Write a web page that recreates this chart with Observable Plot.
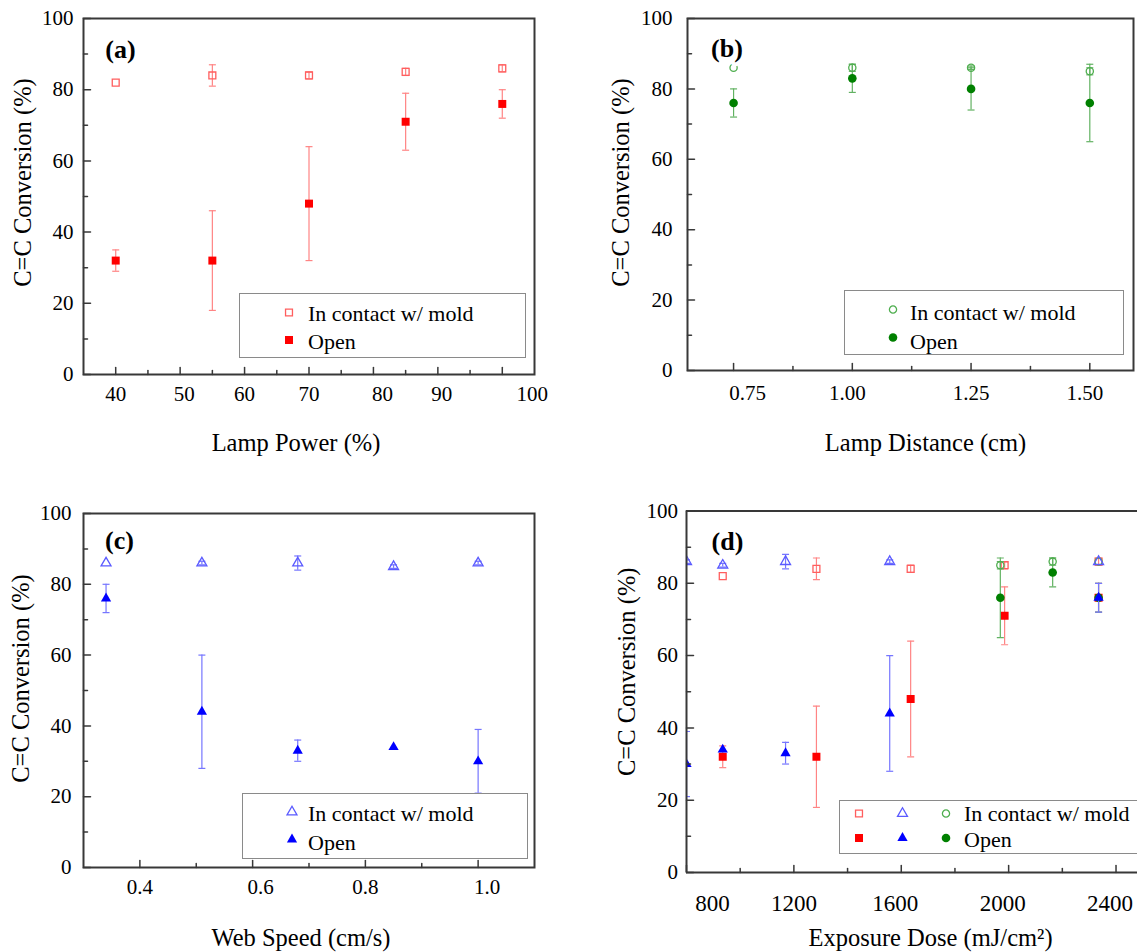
<!DOCTYPE html>
<html><head><meta charset="utf-8">
<script src="https://cdn.jsdelivr.net/npm/d3@7"></script>
<script src="https://cdn.jsdelivr.net/npm/@observablehq/plot@0.6"></script>
<style>
body{margin:0;background:#fff;}
#root{position:relative;width:1137px;height:952px;overflow:hidden;}
.panel{position:absolute;}
.legend{position:absolute;background:#fff;border:1.5px solid #8a8a8a;box-sizing:border-box;}
.legend svg{position:absolute;left:-1.5px;top:-1.5px;overflow:visible;}
</style></head><body><div id="root"></div>
<script>
// ---------- data ----------
const yTicks = [0, 20, 40, 60, 80, 100];
const yMinor = [10, 30, 50, 70, 90];

// (a) lamp power
const powerX = [40, 55, 70, 85, 100];
const powerMold = [82, 84, 84, 85, 86];
const powerMoldErr = [0, 3, 1, 1, 1];
const powerOpen = [32, 32, 48, 71, 76];
const powerOpenErr = [3, 14, 16, 8, 4];
const powerTicks = [40, 50, 60, 70, 80, 90, 100];
const powerMinor = [45, 55, 65, 75, 85, 95];

// (b) lamp distance
const distX = [0.75, 1.0, 1.25, 1.5];
const distMold = [86, 86, 86, 85];
const distMoldErr = [0, 1, 0.5, 1];
const distOpen = [76, 83, 80, 76];
const distOpenErr = [4, 4, 6, 11];
const distTicks = [0.75, 1.0, 1.25, 1.5];
const distMinor = [0.875, 1.125, 1.375];

// (c) web speed
const speedX = [0.34, 0.51, 0.68, 0.85, 1.0];
const speedMold = [86, 86, 86, 85, 86];
const speedMoldErr = [0, 0.5, 2, 0.5, 0.5];
const speedOpen = [76, 44, 33, 34, 30];
const speedOpenErr = [4, 16, 3, 0, 9];
const speedTicks = [0.4, 0.6, 0.8, 1.0];
const speedMinor = [0.5, 0.7, 0.9];

// (d) exposure dose for each condition above
const dosePower = [935, 1284, 1635, 1985, 2335];
const doseDist = [2335, 2164, null, 1969];
const doseSpeed = [2335, 1557, 1169, 935, 800];
const doseTicks = [800, 1200, 1600, 2000, 2400];
const doseMinor = [1000, 1400, 1800, 2200];

const legendLabels = ["In contact w/ mold", "Open"];

// ---------- styles ----------
const FONT = '"Liberation Serif", "Times New Roman", serif';
const FRAME = "#383838";
const RED = {fill: "#ff0000", open: "#ff5e5e", bar: "#ff8484"};
const BLUE = {fill: "#0000ff", open: "#5a5aff", bar: "#7676ff"};
const GREEN = {fill: "#008000", open: "#4fae4f", bar: "#62b262"};
const SYM = {
  square: {type: "square", d3: d3.symbolSquare, rOpen: 3.9, rFill: 4.5},
  circle: {type: "circle", d3: d3.symbolCircle, rOpen: 3.6, rFill: 4.3},
  triangle: {type: "triangle", d3: d3.symbolTriangle, rOpen: 3.7, rFill: 3.8}
};

const capSymbol = {draw(c) { c.moveTo(-3.5, 0); c.lineTo(3.5, 0); }};
const tickShape = {draw(c, l) { c.moveTo(0, 0); c.lineTo(0, -l); }};

function rowsOf(xs, ys, es) {
  return xs.map((x, i) => ({x, y: ys[i], e: es[i]})).filter(d => d.x != null);
}

function errorMarks(rows, color, extra) {
  const eb = rows.filter(d => d.e > 0);
  const o = {stroke: color, strokeWidth: 1.2, ...extra};
  return [
    Plot.ruleX(eb, {x: "x", y1: d => d.y - d.e, y2: d => d.y + d.e, ...o}),
    Plot.dot(eb, {x: "x", y: d => d.y - d.e, symbol: capSymbol, r: 3, fill: "none", ...o}),
    Plot.dot(eb, {x: "x", y: d => d.y + d.e, symbol: capSymbol, r: 3, fill: "none", ...o})
  ];
}

function seriesMarks(xs, mold, moldErr, open, openErr, sym, col, extra = {}) {
  const rm = rowsOf(xs, mold, moldErr);
  const ro = rowsOf(xs, open, openErr);
  return {
    bars: [...errorMarks(rm, col.bar, extra), ...errorMarks(ro, col.bar, extra)],
    dots: [
      Plot.dot(rm, {x: "x", y: "y", symbol: sym.type, r: sym.rOpen, fill: "none", stroke: col.open, strokeWidth: 1.3, ...extra}),
      Plot.dot(ro, {x: "x", y: "y", symbol: sym.type, r: sym.rFill, fill: col.fill, stroke: "none", ...extra})
    ]
  };
}

function tickMarks(xMaj, xMin) {
  const o = {shape: tickShape, anchor: "start", stroke: FRAME, strokeWidth: 1.5};
  return [
    Plot.vector(xMaj, {x: d => d, frameAnchor: "bottom", rotate: 0, length: 7, ...o}),
    Plot.vector(xMin, {x: d => d, frameAnchor: "bottom", rotate: 0, length: 4, ...o}),
    Plot.vector(yTicks, {y: d => d, frameAnchor: "left", rotate: 90, length: 7, ...o}),
    Plot.vector(yMinor, {y: d => d, frameAnchor: "left", rotate: 90, length: 4, ...o})
  ];
}

// x tick labels; labels may be nudged sideways (as in the reference artwork)
function xLabelAxes(cfg) {
  const groups = d3.group(cfg.xTicks, v => (cfg.xShift && cfg.xShift.get(v)) ?? (cfg.xShiftAll || 0));
  return Array.from(groups, ([dx, vals]) =>
    Plot.axisX(vals, {tickSize: 0, tickPadding: cfg.xPad, tickFormat: cfg.xFormat, label: null, fontSize: cfg.xFont || 21, dx}));
}

function titleMarks(cfg) {
  return [
    Plot.text([cfg.xTitle], {text: d => d, frameAnchor: "bottom", dx: cfg.xdx, dy: cfg.xdy, fontSize: 24.5,
      textAnchor: "middle", lineAnchor: "middle", fill: "#000"}),
    Plot.text([cfg.yTitle], {text: d => d, frameAnchor: "left", rotate: -90, dx: cfg.ydx, dy: cfg.ydy, fontSize: 24.5,
      textAnchor: "middle", lineAnchor: "middle", fill: "#000"}),
  ];
}

function panelLabel(label, dx, dy) {
  return Plot.text([label], {text: d => d, frameAnchor: "top-left", dx, dy, textAnchor: "middle", lineAnchor: "middle",
    fontSize: 26, fontWeight: "bold", fill: "#000", stroke: "white", strokeWidth: 8, paintOrder: "stroke"});
}

function makePanel(cfg) {
  const svg = Plot.plot({
    width: cfg.width, height: cfg.height,
    marginLeft: cfg.ml, marginRight: cfg.mr, marginTop: cfg.mt, marginBottom: cfg.mb,
    style: {fontFamily: FONT, fontSize: "21px", color: "#000", background: "transparent", overflow: "visible"},
    x: {domain: cfg.xDomain},
    y: {domain: [0, 100]},
    marks: [
      ...cfg.marks,
      ...(cfg.frameMarks || [Plot.frame({stroke: FRAME, strokeWidth: 2})]),
      ...tickMarks(cfg.xTicks, cfg.xMinor),
      ...xLabelAxes(cfg),
      Plot.axisY(yTicks, {tickSize: 0, tickPadding: cfg.yPad, label: null, fontSize: 21}),
      ...titleMarks(cfg),
      panelLabel(cfg.label, cfg.ldx, cfg.ldy)
    ]
  });
  const wrap = document.createElement("div");
  wrap.className = "panel";
  wrap.style.left = cfg.left + "px";
  wrap.style.top = cfg.top + "px";
  wrap.appendChild(svg);
  document.getElementById("root").appendChild(wrap);
}

function addLegend(cfg) {
  const div = document.createElement("div");
  div.className = "legend";
  Object.assign(div.style, {left: cfg.left + "px", top: cfg.top + "px", width: cfg.width + "px", height: cfg.height + "px"});
  const svg = d3.create("svg").attr("width", cfg.width).attr("height", cfg.height);
  cfg.rows.forEach((row, ri) => {
    row.items.forEach(it => {
      const r = it.filled ? it.sym.rFill : it.sym.rOpen;
      svg.append("path")
        .attr("d", d3.symbol(it.sym.d3, Math.PI * r * r)())
        .attr("transform", `translate(${it.x},${row.y})`)
        .attr("fill", it.filled ? it.col.fill : "none")
        .attr("stroke", it.filled ? "none" : it.col.open)
        .attr("stroke-width", 1.3);
    });
    svg.append("text")
      .attr("x", cfg.textX).attr("y", row.ty)
      .attr("dominant-baseline", "central")
      .attr("font-family", FONT).attr("font-size", 22).attr("fill", "#000")
      .text(legendLabels[ri]);
  });
  div.appendChild(svg.node());
  document.getElementById("root").appendChild(div);
}

// ---------- panel (a) ----------
const sa = seriesMarks(powerX, powerMold, powerMoldErr, powerOpen, powerOpenErr, SYM.square, RED);
makePanel({
  left: 0, top: 0, width: 568, height: 476, ml: 83, mr: 34, mt: 18, mb: 102,
  xDomain: [35, 105], xTicks: powerTicks, xMinor: powerMinor, xFormat: d3.format("d"),
  xShift: new Map([[50, 4], [80, 9], [90, 4], [100, 30]]),
  xPad: 12, yPad: 10,
  marks: [...sa.bars, ...sa.dots],
  xTitle: "Lamp Power (%)", xdx: -13, xdy: 69,
  yTitle: "C=C Conversion (%)", ydx: -60, ydy: -14,
  label: "(a)", ldx: 37, ldy: 31
});

// ---------- panel (b) ----------
const sb = seriesMarks(distX, distMold, distMoldErr, distOpen, distOpenErr, SYM.circle, GREEN);
makePanel({
  left: 568, top: 0, width: 569, height: 476, ml: 119, mr: 4, mt: 18, mb: 106,
  xDomain: [0.653, 1.592], xTicks: distTicks, xMinor: distMinor, xFormat: d3.format(".2f"),
  xShift: new Map([[0.75, 14], [1.0, -5], [1.5, -5]]),
  xPad: 15, yPad: 15,
  marks: [...sb.bars, ...sb.dots],
  xTitle: "Lamp Distance (cm)", xdx: 15, xdy: 73,
  yTitle: "C=C Conversion (%)", ydx: -66, ydy: -12,
  label: "(b)", ldx: 39.5, ldy: 30
});

// ---------- panel (c) ----------
const sc = seriesMarks(speedX, speedMold, speedMoldErr, speedOpen, speedOpenErr, SYM.triangle, BLUE);
makePanel({
  left: 0, top: 476, width: 568, height: 476, ml: 83, mr: 34, mt: 37, mb: 85,
  xDomain: [0.3, 1.1], xTicks: speedTicks, xMinor: speedMinor, xFormat: d3.format(".1f"),
  xShift: new Map([[0.6, 8], [1.0, 9]]),
  xPad: 12, yPad: 12,
  marks: [...sc.bars, ...sc.dots],
  xTitle: "Web Speed (cm/s)", xdx: -8, xdy: 71,
  yTitle: "C=C Conversion (%)", ydx: -62, ydy: -12,
  label: "(c)", ldx: 36, ldy: 27
});

// ---------- panel (d) ----------
const clip = {clip: true};
const dRed = seriesMarks(dosePower, powerMold, powerMoldErr, powerOpen, powerOpenErr, SYM.square, RED, clip);
const dGreen = seriesMarks(doseDist, distMold, distMoldErr, distOpen, distOpenErr, SYM.circle, GREEN, clip);
const dBlue = seriesMarks(doseSpeed, speedMold, speedMoldErr, speedOpen, speedOpenErr, SYM.triangle, BLUE, clip);
makePanel({
  left: 568, top: 476, width: 569, height: 476, ml: 118, mr: 0, mt: 34.5, mb: 80,
  xDomain: [800, 2480], xTicks: doseTicks, xMinor: doseMinor, xFormat: d3.format("d"),
  xShift: new Map([[800, 26], [1200, 0]]), xShiftAll: -6,
  xPad: 22, yPad: 8.5, xFont: 23,
  marks: [...dRed.bars, ...dRed.dots, ...dGreen.bars, ...dGreen.dots, ...dBlue.bars, ...dBlue.dots],
  frameMarks: [
    Plot.ruleY([0, 100], {stroke: FRAME, strokeWidth: 2}),
    Plot.ruleX([800], {stroke: FRAME, strokeWidth: 2})
  ],
  xTitle: "Exposure Dose (mJ/cm²)", xdx: 18.5, xdy: 66,
  yTitle: "C=C Conversion (%)", ydx: -59.5, ydy: -20,
  label: "(d)", ldx: 41, ldy: 31
});

// ---------- legends ----------
addLegend({left: 239, top: 293, width: 287, height: 65, textX: 69,
  rows: [
    {y: 19.5, ty: 20.5, items: [{x: 50, sym: SYM.square, col: RED, filled: false}]},
    {y: 47, ty: 48.5, items: [{x: 50, sym: SYM.square, col: RED, filled: true}]}
  ]});
addLegend({left: 844, top: 290, width: 280, height: 65, textX: 66,
  rows: [
    {y: 19.5, ty: 22.5, items: [{x: 49, sym: SYM.circle, col: GREEN, filled: false}]},
    {y: 47.5, ty: 51, items: [{x: 49, sym: SYM.circle, col: GREEN, filled: true}]}
  ]});
addLegend({left: 242, top: 793, width: 285.5, height: 65.5, textX: 66,
  rows: [
    {y: 19, ty: 20.5, items: [{x: 50, sym: SYM.triangle, col: BLUE, filled: false}]},
    {y: 46.5, ty: 49, items: [{x: 50, sym: SYM.triangle, col: BLUE, filled: true}]}
  ]});
addLegend({left: 838.5, top: 799.5, width: 299, height: 54, textX: 126,
  rows: [
    {y: 14.5, ty: 14, items: [
      {x: 21, sym: SYM.square, col: RED, filled: false},
      {x: 64.5, sym: SYM.triangle, col: BLUE, filled: false},
      {x: 108, sym: SYM.circle, col: GREEN, filled: false}]},
    {y: 39, ty: 40.5, items: [
      {x: 21, sym: SYM.square, col: RED, filled: true},
      {x: 64.5, sym: SYM.triangle, col: BLUE, filled: true},
      {x: 108, sym: SYM.circle, col: GREEN, filled: true}]}
  ]});
</script>
</body></html>
